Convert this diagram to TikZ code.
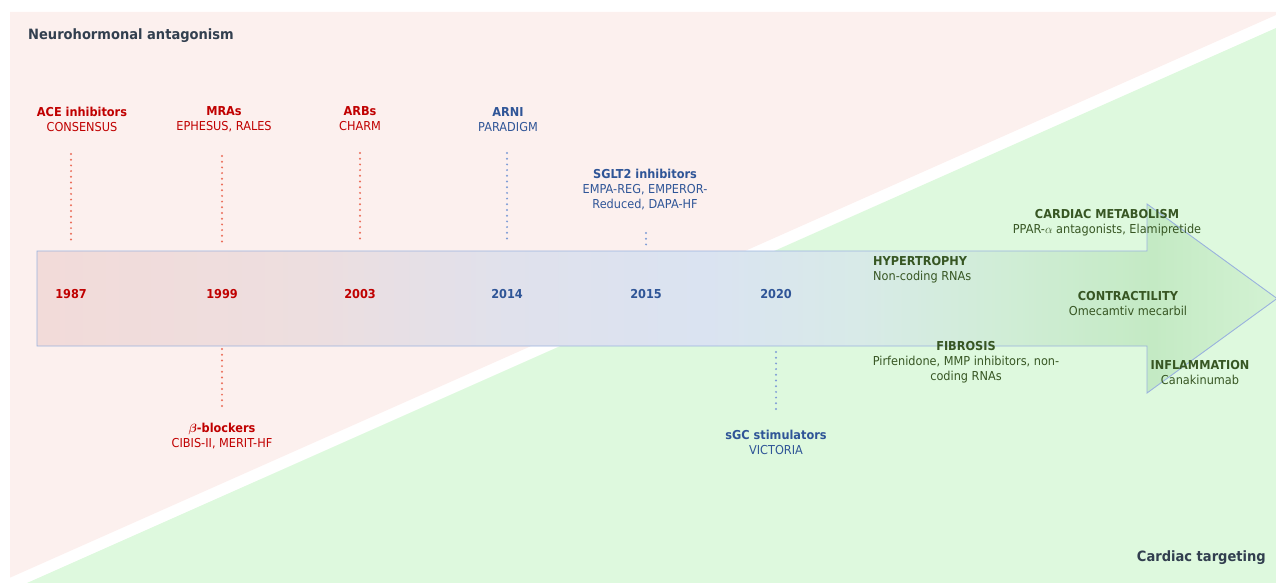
\documentclass[tikz,border=0pt]{standalone}
\usepackage{fontspec}
\setmainfont{DejaVu Sans}[FakeStretch=0.92]
\usetikzlibrary{positioning}

\definecolor{pinkbg}{HTML}{FCF0EE}
\definecolor{greenbg}{HTML}{DEF9DE}
\definecolor{redtxt}{HTML}{C00000}
\definecolor{bluetxt}{HTML}{2F5597}
\definecolor{greentxt}{HTML}{375623}
\definecolor{slate}{HTML}{323F4F}
\definecolor{reddot}{HTML}{EB6E5A}
\definecolor{bluedot}{HTML}{7F9DD6}
\definecolor{arrowedge}{HTML}{9AB2DE}
\definecolor{arrA}{HTML}{F2DBD9}
\definecolor{arrB}{HTML}{EDDEDF}
\definecolor{arrC}{HTML}{E0E1EC}
\definecolor{arrD}{HTML}{DAE3F1}
\definecolor{arrE}{HTML}{D8EAE8}
\definecolor{arrF}{HTML}{D0EDD6}
\definecolor{arrG}{HTML}{C4EAC4}
\definecolor{arrH}{HTML}{D3F2D3}

\pgfdeclarehorizontalshading{timeline}{100bp}{color(0bp)=(arrA); color(25bp)=(arrA);
  color(36bp)=(arrB); color(44bp)=(arrC); color(52bp)=(arrD); color(58bp)=(arrE);
  color(64bp)=(arrF); color(70bp)=(arrG); color(75bp)=(arrH); color(100bp)=(arrH)}

\tikzset{
  lbl/.style = {align=center, inner sep=0pt, font=\fontsize{12.3}{15}\selectfont},
  redlbl/.style = {lbl, text=redtxt},
  bluelbl/.style = {lbl, text=bluetxt},
  greenlbl/.style = {lbl, text=greentxt},
  year/.style = {inner sep=0pt, font=\fontsize{12.3}{15}\selectfont\bfseries},
  title/.style = {inner sep=0pt, text=slate, font=\fontsize{14.2}{17}\selectfont\bfseries},
  dots/.style = {line width=2.2pt, line cap=round, dash pattern=on 0pt off 5.7pt},
  reddots/.style = {dots, draw=reddot},
  bluedots/.style = {dots, draw=bluedot},
  timelinearrow/.style = {draw=arrowedge, line width=0.9pt, shade, shading=timeline}
}

\begin{document}
\begin{tikzpicture}[x=1pt, y=-1pt]

  \useasboundingbox (0,0) rectangle (1276,583);

  % Background
  \fill[pinkbg] (10,12) -- (1276,12) -- (1276,15) -- (10,577.7) -- cycle;
  \fill[greenbg] (1276,28) -- (1276,583) -- (27,583) -- cycle;

  % Titles
  \node[title, anchor=west] (neuro) at (28,36) {Neurohormonal antagonism};
  \node[title, anchor=east] (cardiac) at (1266,558) {Cardiac targeting};

  % Timeline arrow
  \path[timelinearrow] (37,251) -- (1147,251) -- (1147,204) -- (1277,298.5)
    -- (1147,393) -- (1147,346) -- (37,346) -- cycle;

  % Years
  \node[year, text=redtxt] (y1987) at (71,294) {1987};
  \node[year, text=redtxt] (y1999) at (222,294) {1999};
  \node[year, text=redtxt] (y2003) at (360,294) {2003};
  \node[year, text=bluetxt] (y2014) at (507,294) {2014};
  \node[year, text=bluetxt] (y2015) at (646,294) {2015};
  \node[year, text=bluetxt] (y2020) at (776,294) {2020};

  % Neurohormonal trials | above
  \node[redlbl] (ace) at (82,119) {\textbf{ACE inhibitors}\\CONSENSUS};
  \node[redlbl] (mra) at (224,119) {\textbf{MRAs}\\EPHESUS, RALES};
  \node[redlbl] (arb) at (360,119) {\textbf{ARBs}\\CHARM};
  \node[bluelbl] (arni) at (508,120) {\textbf{ARNI}\\PARADIGM};
  \node[bluelbl] (sglt) at (645,190) {\textbf{SGLT2 inhibitors}\\EMPA-REG, EMPEROR-\\Reduced, DAPA-HF};

  % Neurohormonal trials | below
  \node[redlbl] (beta) at (222,436) {\textbf{\boldmath$\beta$-blockers}\\CIBIS-II, MERIT-HF};
  \node[bluelbl] (sgc) at (776,442) {\textbf{sGC stimulators}\\VICTORIA};

  % Markers
  \draw[reddots] (y1987 |- 0,154) -- (y1987 |- 0,243);
  \draw[reddots] (y1999 |- 0,156) -- (y1999 |- 0,245);
  \draw[reddots] (y2003 |- 0,153) -- (y2003 |- 0,242);
  \draw[bluedots] (y2014 |- 0,153) -- (y2014 |- 0,243);
  \draw[bluedots] (y2015 |- 0,233) -- (y2015 |- 0,245);
  \draw[reddots] (y1999 |- 0,349) -- (y1999 |- 0,410);
  \draw[bluedots] (y2020 |- 0,352) -- (y2020 |- 0,412);

  % Cardiac targets
  \node[greenlbl, anchor=west, align=left] (hyper) at (873,270) {\textbf{HYPERTROPHY}\\Non-coding RNAs};
  \node[greenlbl] (metab) at (1107,223) {\textbf{CARDIAC METABOLISM}\\PPAR-$\alpha$ antagonists, Elamipretide};
  \node[greenlbl] (contr) at (1128,304) {\textbf{CONTRACTILITY}\\Omecamtiv mecarbil};
  \node[greenlbl] (fibro) at (966,362) {\textbf{FIBROSIS}\\Pirfenidone, MMP inhibitors, non-\\coding RNAs};
  \node[greenlbl] (inflam) at (1200,373) {\textbf{INFLAMMATION}\\Canakinumab};

\end{tikzpicture}
\end{document}
